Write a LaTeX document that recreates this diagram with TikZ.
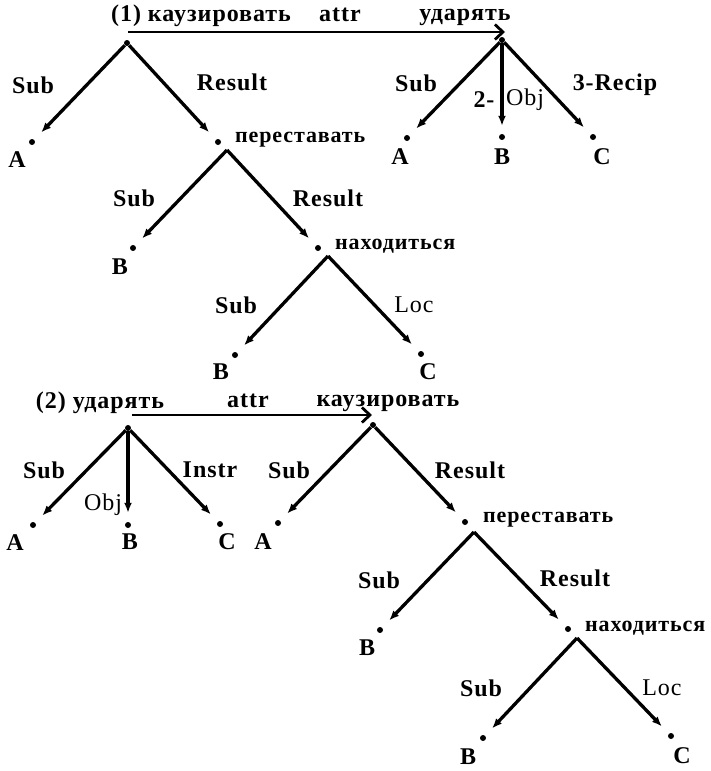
\documentclass[tikz,border=0pt]{standalone}
\usepackage{fontspec}
\setmainfont{Liberation Serif}
\newfontfamily\spfont[LetterSpace=4]{Liberation Serif}
\usetikzlibrary{arrows.meta,calc}
\begin{document}
\begin{tikzpicture}[x=1pt,y=-1pt,
  dot/.style={circle,fill,inner sep=0pt,minimum size=6pt},
  lbl/.style={font=\spfont\fontsize{24}{26}\selectfont\bfseries, inner sep=0pt},
  lblr/.style={font=\spfont\fontsize{24}{26}\selectfont, inner sep=0pt},
  word/.style={font=\spfont\fontsize{22}{24}\selectfont\bfseries, inner sep=0pt, anchor=west},
  edge/.style={line width=3.3pt,-{Latex[length=10pt,width=8pt]},shorten >=10pt},
  attrarrow/.style={line width=2.8pt,-{Straight Barb[length=8pt,width=15pt]}}]
\useasboundingbox (0,0) rectangle (710,771);

% ---------------- Tree (1) ----------------
\node[lbl] (t1) at (201,16) {(1) каузировать};
\node[lbl] (attr1) at (340,15) {attr};
\node[lbl] (t1u) at (465,17) {ударять};
\coordinate (h1s) at (128,32);
\coordinate (h1e) at (505,32);
\draw[attrarrow] (h1s) -- (h1e);

\node[dot] (k1) at (127,43) {};
\node[dot] (k1A) at (32,142) {};
\node[lbl] (k1Al) at (17,160) {A};
\node[lbl] (k1sub) at (33,85) {Sub};
\node[lbl] (k1res) at (232,82) {Result};
\node[dot] (p1) at (218,142) {};
\node[word] (p1w) at (235,140) {переставать};
\coordinate (p1a) at (227,150);
\draw[edge] (k1) -- (k1A);
\draw[edge] (k1) -- (p1);

\node[dot] (p1B) at (133,248) {};
\node[lbl] (p1Bl) at (120,267) {B};
\node[lbl] (p1sub) at (134,198) {Sub};
\node[lbl] (p1res) at (328,198) {Result};
\node[dot] (n1) at (318,248) {};
\node[word] (n1w) at (335,246) {находиться};
\coordinate (n1a) at (328,256);
\draw[edge] (p1a) -- (p1B);
\draw[edge] (p1a) -- (n1);

\node[dot] (n1B) at (235,355) {};
\node[lbl] (n1Bl) at (221,372) {B};
\node[dot] (n1C) at (421,354) {};
\node[lbl] (n1Cl) at (428,372) {C};
\node[lbl] (n1sub) at (236,305) {Sub};
\node[lblr] (n1loc) at (414,305) {Loc};
\draw[edge] (n1a) -- (n1B);
\draw[edge] (n1a) -- (n1C);

% right part of (1)
\node[dot] (u1) at (502,40) {};
\node[dot] (u1A) at (407,138) {};
\node[lbl] (u1Al) at (400,157) {A};
\node[dot] (u1B) at (502,137) {};
\node[lbl] (u1Bl) at (502,157) {B};
\node[dot] (u1C) at (593,137) {};
\node[lbl] (u1Cl) at (602,157) {C};
\node[lbl] (u1sub) at (416,83) {Sub};
\node[lbl] (u1two) at (484,100) {2-};
\node[lblr] (u1obj) at (525,100) {Obj};
\node[lbl] (u1rec) at (615,85) {3-Recip};
\draw[edge] (u1) -- (u1A);
\draw[edge,shorten >=8pt] (u1) -- (u1B);
\draw[edge] (u1) -- (u1C);

% ---------------- Tree (2) ----------------
\node[lbl] (t2) at (100,403) {(2) ударять};
\node[lbl] (attr2) at (248,401) {attr};
\node[lbl] (t2k) at (388,403) {каузировать};
\coordinate (h2s) at (132,415);
\coordinate (h2e) at (372,415);
\draw[attrarrow] (h2s) -- (h2e);

\node[dot] (u2) at (128,428) {};
\node[dot] (u2A) at (33,525) {};
\node[lbl] (u2Al) at (15,543) {A};
\node[dot] (u2B) at (128,525) {};
\node[lbl] (u2Bl) at (130,542) {B};
\node[dot] (u2C) at (220,524) {};
\node[lbl] (u2Cl) at (227,542) {C};
\node[lbl] (u2sub) at (44,470) {Sub};
\node[lblr] (u2obj) at (103,505) {Obj};
\node[lbl] (u2ins) at (210,470) {Instr};
\draw[edge] (u2) -- (u2A);
\draw[edge,shorten >=9pt] (u2) -- (u2B);
\draw[edge] (u2) -- (u2C);

\node[dot] (k2) at (373,425) {};
\node[dot] (k2A) at (278,523) {};
\node[lbl] (k2Al) at (263,542) {A};
\node[lbl] (k2sub) at (289,470) {Sub};
\node[lbl] (k2res) at (470,470) {Result};
\node[dot] (p2) at (465,522) {};
\node[word] (p2w) at (483,520) {переставать};
\coordinate (p2a) at (474,532);
\draw[edge] (k2) -- (k2A);
\draw[edge] (k2) -- (p2);

\node[dot] (p2B) at (380,630) {};
\node[lbl] (p2Bl) at (367,648) {B};
\node[lbl] (p2sub) at (379,580) {Sub};
\node[lbl] (p2res) at (575,578) {Result};
\node[dot] (n2) at (568,629) {};
\node[word] (n2w) at (585,628) {находиться};
\coordinate (n2a) at (577,638);
\draw[edge] (p2a) -- (p2B);
\draw[edge] (p2a) -- (n2);

\node[dot] (n2B) at (483,738) {};
\node[lbl] (n2Bl) at (468,757) {B};
\node[dot] (n2C) at (671,736) {};
\node[lbl] (n2Cl) at (682,756) {C};
\node[lbl] (n2sub) at (481,688) {Sub};
\node[lblr] (n2loc) at (662,688) {Loc};
\draw[edge] (n2a) -- (n2B);
\draw[edge] (n2a) -- (n2C);
\end{tikzpicture}
\end{document}
